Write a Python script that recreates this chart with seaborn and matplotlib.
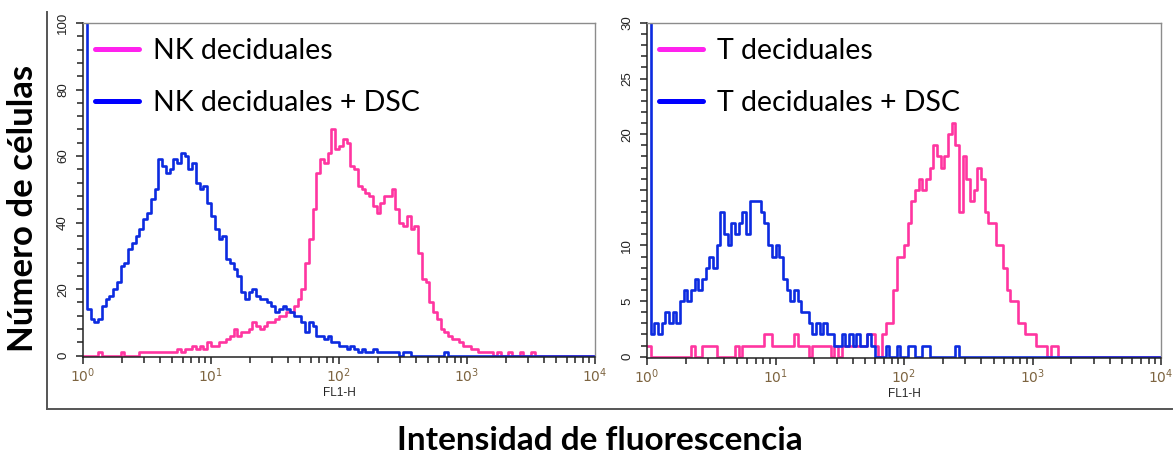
import matplotlib
matplotlib.use("Agg")
import matplotlib.pyplot as plt
from matplotlib.lines import Line2D
from matplotlib.ticker import FixedLocator, MultipleLocator, LogLocator, NullFormatter
import numpy as np
import pandas as pd
import seaborn as sns

sns.set_style("white")
plt.rcParams["font.family"] = ["Lato", "DejaVu Sans"]

# ---- data: FL1-H histograms (counts per channel, log channels) ----
DECADES = 4
nk_channels_per_decade = 34
t_channels_per_decade = 35

nk_labels = ["NK deciduales", "NK deciduales + DSC"]
t_labels = ["T deciduales", "T deciduales + DSC"]

nk_counts = [
    0, 0, 0, 0, 1, 0, 0, 0, 0, 0, 1, 0, 0, 0, 0, 1, 1, 1, 1, 1,
    1, 1, 1, 1, 1, 2, 1, 2, 2, 3, 2, 3, 2, 4, 3, 3, 4, 4, 5, 6,
    8, 6, 7, 7, 8, 10, 9, 8, 9, 10, 10, 11, 12, 12, 13, 13, 15, 17, 20, 28,
    35, 44, 55, 59, 58, 61, 68, 62, 63, 65, 64, 57, 56, 51, 50, 49, 48, 45, 43, 46,
    48, 48, 50, 44, 40, 39, 42, 38, 39, 31, 23, 22, 16, 13, 11, 8, 7, 6, 5, 5,
    4, 3, 3, 2, 2, 1, 1, 1, 1, 0, 1, 0, 0, 1, 0, 0, 1, 0, 0, 1,
]
nk_dsc_counts = [
    130, 14, 11, 10, 11, 15, 17, 18, 20, 22, 27, 28, 32, 34, 36, 38, 41, 43, 47, 50,
    59, 57, 55, 56, 59, 58, 61, 60, 56, 58, 52, 50, 51, 46, 42, 38, 35, 36, 29, 28,
    26, 24, 19, 17, 19, 20, 18, 17, 17, 16, 15, 13, 14, 15, 14, 13, 12, 12, 10, 7,
    10, 9, 6, 6, 5, 6, 4, 4, 3, 3, 2, 3, 2, 1, 2, 1, 1, 2, 1, 1,
    1, 1, 1, 1, 0, 1, 1, 0, 0, 0, 0, 0, 0, 0, 0, 0, 1,
]
t_counts = [
    1, 0, 0, 0, 0, 0, 0, 0, 0, 0, 0, 0, 1, 0, 0, 1, 1, 1, 1, 0,
    0, 0, 0, 0, 1, 0, 1, 1, 1, 1, 1, 1, 2, 2, 1, 1, 1, 1, 1, 1,
    2, 1, 1, 1, 0, 1, 1, 1, 1, 1, 0, 1, 0, 1, 1, 1, 1, 1, 1, 1,
    2, 2, 1, 0, 2, 3, 3, 6, 9, 9, 10, 12, 14, 15, 16, 15, 16, 17, 19, 18,
    17, 18, 20, 21, 19, 13, 18, 16, 14, 15, 17, 16, 13, 12, 12, 10, 10, 8, 6, 5,
    5, 3, 3, 2, 2, 2, 1, 1, 1, 0, 1, 1,
]
t_dsc_counts = [
    40, 2, 3, 2, 3, 4, 3, 4, 3, 5, 6, 5, 6, 7, 6, 7, 8, 9, 8, 10,
    13, 11, 10, 12, 11, 12, 13, 11, 14, 14, 14, 13, 12, 10, 9, 10, 9, 7, 6, 5,
    6, 5, 4, 4, 3, 2, 3, 2, 3, 2, 2, 1, 1, 2, 1, 2, 1, 2, 1, 1,
    2, 1, 0, 0, 0, 1, 0, 0, 1, 0, 0, 1, 1, 0, 0, 1, 1, 0, 0, 0,
    0, 0, 0, 0, 1,
]

nk_yticks = [0, 20, 40, 60, 80, 100]
nk_yticklabels = ["0", "20", "40", "60", "80", "100"]
t_yticks = [0, 5, 10, 15, 20, 25, 30]
t_yticklabels = ["0", "5", "10", "", "20", "25", "30"]
xticks = [1, 10, 100, 1000, 10000]
xticklabels = [r"$10^{0}$", r"$10^{1}$", r"$10^{2}$", r"$10^{3}$", r"$10^{4}$"]

# ---- styling ----
PINK = "#ff35a0"
BLUE = "#0c2be0"
LEGEND_PINK = "#ff22ee"
LEGEND_BLUE = "#0000ff"
W, H = 1174, 459


def histogram_frame(labels, series, cpd):
    total = DECADES * cpd
    edges = 10 ** (np.arange(total + 1) / cpd)
    parts = []
    for name, counts in zip(labels, series):
        full = list(counts) + [0] * (total - len(counts))
        parts.append(pd.DataFrame({"FL1-H": edges, "count": full + [full[-1]], "serie": name}))
    return pd.concat(parts, ignore_index=True)


def px_axes(x0, x1, ytop, ybot):
    return [x0 / W, 1 - ybot / H, (x1 - x0) / W, (ybot - ytop) / H]


fig = plt.figure(figsize=(W / 100, H / 100), dpi=100)

# enclosing L-shaped frame that carries the shared axis titles
FX0, FX1, FY0, FY1 = 47, 1172, 12, 409
frame = fig.add_axes(px_axes(FX0, FX1, FY0, FY1))
frame.patch.set_alpha(0)
for side in ("top", "right"):
    frame.spines[side].set_visible(False)
for side in ("left", "bottom"):
    frame.spines[side].set_color("#555555")
    frame.spines[side].set_linewidth(1.4)
frame.set_xticks([])
frame.set_yticks([])
frame.set_ylabel("Número de células", fontsize=25, fontweight="bold", va="center", color="black")
frame.yaxis.set_label_coords((23 - FX0) / (FX1 - FX0), (FY1 - 208) / (FY1 - FY0))
frame.set_xlabel("Intensidad de fluorescencia", fontsize=24, fontweight="bold", va="center",
                 color="black")
frame.xaxis.set_label_coords((600 - FX0) / (FX1 - FX0), -(440 - FY1) / (FY1 - FY0))

panels = [
    (px_axes(83, 595, 23, 357), nk_labels, [nk_counts, nk_dsc_counts], nk_channels_per_decade,
     (0, 100), nk_yticks, nk_yticklabels, 4),
    (px_axes(647, 1161, 23, 358), t_labels, [t_counts, t_dsc_counts], t_channels_per_decade,
     (0, 30), t_yticks, t_yticklabels, 1),
]

for rect, labels, series, cpd, ylim, yticks, yticklabels, yminor in panels:
    ax = fig.add_axes(rect)
    df = histogram_frame(labels, series, cpd)
    sns.lineplot(
        data=df, x="FL1-H", y="count", hue="serie", hue_order=labels,
        palette=[PINK, BLUE], estimator=None, sort=False,
        drawstyle="steps-post", linewidth=1.9, legend=False, ax=ax,
    )
    ax.set_xscale("log")
    ax.set_xlim(1, 10 ** DECADES)
    span = ylim[1] - ylim[0]
    ax.set_ylim(ylim[0] - span * 0.004, ylim[1])

    ax.xaxis.set_major_locator(FixedLocator(xticks))
    ax.set_xticklabels(xticklabels, fontsize=10, color="#7d6440", family="Liberation Sans")
    ax.xaxis.set_minor_locator(LogLocator(base=10, subs=np.arange(2, 10)))
    ax.xaxis.set_minor_formatter(NullFormatter())
    ax.yaxis.set_major_locator(FixedLocator(yticks))
    ax.set_yticklabels(yticklabels, fontsize=9.5, rotation=90, va="center",
                       color="#222222", family="Liberation Sans")
    ax.yaxis.set_minor_locator(MultipleLocator(yminor))
    ax.tick_params(which="both", bottom=True, left=True, top=False, right=False)
    ax.tick_params(which="major", direction="out", length=5, width=1.2, color="#333333", pad=2)
    ax.tick_params(axis="y", which="major", pad=5)
    ax.tick_params(which="minor", direction="out", length=4, width=1.2, color="#333333")
    ax.set_xlabel("FL1-H", fontsize=8.5, family="Liberation Sans", color="#222222", labelpad=1)
    ax.set_ylabel("")

    for side in ("top", "right"):
        ax.spines[side].set_color("#8c8c8c")
        ax.spines[side].set_linewidth(1.0)
    for side in ("left", "bottom"):
        ax.spines[side].set_color("#222222")
        ax.spines[side].set_linewidth(1.1)

    handles = [Line2D([], [], color=LEGEND_PINK, lw=3.6),
               Line2D([], [], color=LEGEND_BLUE, lw=3.6)]
    leg = ax.legend(handles, labels, loc="upper left", bbox_to_anchor=(0.023, 0.955),
                    frameon=False, fontsize=20.5, handlelength=1.55, handletextpad=0.5,
                    labelspacing=0.9, borderaxespad=0, borderpad=0)
    for text in leg.get_texts():
        text.set_color("black")

fig.savefig("out.png", dpi=100)
